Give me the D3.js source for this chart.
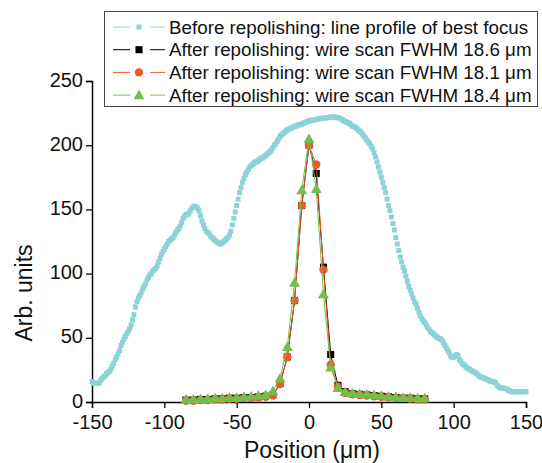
<!DOCTYPE html>
<html><head><meta charset="utf-8">
<script src="https://cdn.jsdelivr.net/npm/d3@7"></script>
<style>
html,body{margin:0;padding:0;background:#fff;}
svg{display:block;font-family:"Liberation Sans",Arial,sans-serif;}
</style></head>
<body>
<svg id="chart" width="542" height="463"></svg>
<script>
// ---- data ----
const xTickValues = [-150, -100, -50, 0, 50, 100, 150];
const yTickValues = [0, 50, 100, 150, 200, 250];

// Before repolishing: line profile (1 µm steps from -150 to 150)
const profileStart = -150;
const profileValues = [
  16, 15, 14.5, 14.5, 14.5, 15, 17, 18.5, 19.5, 20.5,
  22, 23, 24, 25.5, 28, 30, 33, 35, 37.5, 40,
  44, 46.5, 49, 51, 53, 55, 57, 60, 64, 68,
  74, 78, 81, 83, 85, 88, 90, 92, 95, 97,
  99, 100, 102, 103, 104, 106, 109, 112, 115, 117,
  119, 121, 123, 125, 126, 127, 128, 130, 132, 134,
  135, 137, 140, 143, 145, 146, 146, 147, 149, 151,
  152, 152.5, 152, 151, 149, 145, 141, 138, 135, 133,
  132, 131, 129, 128, 127, 126, 125, 124, 123.5, 123,
  124, 125, 126, 127, 128, 130, 133, 138, 143, 148,
  153, 158, 163, 167, 171, 174, 177, 179, 181, 183,
  184, 185, 186, 187, 187, 188, 189, 190, 190, 191,
  192, 193, 194, 195, 196, 198, 200, 201, 203, 205,
  207, 208, 209, 210, 211, 212, 212.5, 213, 213.5, 214,
  214.5, 215, 215.5, 216, 216, 216.5, 217, 217.5, 218, 218.5,
  219, 219, 219.5, 219.5, 220, 220, 220.5, 220.5, 221, 221,
  221, 221, 221.5, 221.5, 221.5, 222, 222, 222, 222, 221.5,
  221.5, 221, 220.5, 220, 219, 218.5, 218, 217.5, 217, 216,
  215, 214.5, 214, 213, 212, 211, 210, 208.5, 207, 205.5,
  204, 202.5, 201, 199, 197, 194, 191, 187, 183, 179,
  175, 171, 167, 163, 158, 153, 149, 144, 139, 134,
  128, 123, 118, 113, 109, 105, 102, 98, 94, 90,
  87, 84, 81, 78, 76, 73, 70, 67, 65, 63,
  62, 60, 58, 56.5, 55, 54, 53, 52, 51, 50,
  49.5, 49, 48, 46, 44, 42, 40, 38, 35.5, 34.5,
  35, 36, 37, 36, 33, 31.5, 30, 29, 28, 27,
  26, 25.5, 24.5, 24, 23.5, 23, 22, 21, 20, 19.5,
  19, 18.5, 18, 17.5, 17, 16.5, 16, 16, 15.5, 15,
  13, 12, 11, 11, 11, 10.5, 10.5, 10, 9, 8.5,
  8, 8, 8, 8, 8, 8, 8, 8, 8, 8, 8
];

// Wire scans (5 µm steps from -85 to 80)
const scanPositions = [-85,-80,-75,-70,-65,-60,-55,-50,-45,-40,-35,-30,-25,-20,-15,-10,-5,0,5,10,15,20,25,30,35,40,45,50,55,60,65,70,75,80];
const scan186 = [1.5,1.5,2,2,2.5,2.5,3,3,3.5,3.5,4,4.5,5.5,14.5,35,79,153,200,178,105,37,13,8,6.5,6,5.5,5,4.5,4,3.5,3,3,2.5,2.5];
const scan181 = [1,1,1.5,1.5,2,2,2.5,2.5,3,3,3.5,4,5,14,35,79,153,200,185,103,29,12,7,6,5.5,5,4.5,4,3.5,3,3,2.5,2,2];
const scan184 = [2,2,2.5,2.5,3,3,3.5,3.5,4,4.5,5,5.5,8.5,18.5,43,93,165,205,166,84,27,11,8,7,6.5,6,5.5,5,4.5,4,3.5,3.5,3,3];

const legendLabels = [
  "Before repolishing: line profile of best focus",
  "After repolishing: wire scan FWHM 18.6 \u03bcm",
  "After repolishing: wire scan FWHM 18.1 \u03bcm",
  "After repolishing: wire scan FWHM 18.4 \u03bcm"
];

// ---- drawing ----
const cyan = "#8dd3d5", red = "#f0582a", green = "#74bf4c", black = "#000";
const svg = d3.select("#chart");
const x = d3.scaleLinear().domain([-150, 150]).range([92, 526]);
const y = d3.scaleLinear().domain([0, 250]).range([402, 81]);

const profile = profileValues.map((v, i) => ({x: profileStart + i, y: v}));

// axes
const xMinor = d3.range(-150, 151, 10);
const yMinor = d3.range(0, 251, 10);
const fontTick = "20px";

const gx = svg.append("g").attr("transform", "translate(0,402)");
gx.call(d3.axisBottom(x).tickValues(xMinor).tickSize(3.5).tickFormat(""));
gx.call(d3.axisBottom(x).tickValues(xTickValues).tickSize(6).tickPadding(6.5).tickFormat(d3.format("d")));
gx.selectAll("path.domain").attr("stroke-width", 1.5);
gx.selectAll("line").attr("stroke-width", 1.3);
gx.selectAll("text").attr("font-size", fontTick).attr("font-family", "Liberation Sans, Arial, sans-serif").attr("fill", "#111").text(d => d < 0 ? "-" + Math.abs(d) : d);

const gy = svg.append("g").attr("transform", "translate(92,0)");
gy.call(d3.axisLeft(y).tickValues(yMinor).tickSize(3.5).tickFormat(""));
gy.call(d3.axisLeft(y).tickValues(yTickValues).tickSize(6).tickPadding(3).tickFormat(d3.format("d")));
gy.selectAll("path.domain").attr("stroke-width", 1.5);
gy.selectAll("line").attr("stroke-width", 1.3);
gy.selectAll("text").attr("font-size", fontTick).attr("font-family", "Liberation Sans, Arial, sans-serif").attr("fill", "#111")
  .attr("dy", "0.25em");

// axis titles
svg.append("text").attr("x", 312).attr("y", 458).attr("text-anchor", "middle")
  .attr("font-size", "23px").attr("fill", "#111").text("Position (\u03bcm)");
svg.append("text").attr("transform", "translate(32,293) rotate(-90)").attr("text-anchor", "middle")
  .attr("font-size", "23px").attr("fill", "#111").text("Arb. units");

// cyan profile squares
svg.append("g").selectAll("rect").data(profile).join("rect")
  .attr("x", d => x(d.x) - 2.5).attr("y", d => y(d.y) - 2.5)
  .attr("width", 5).attr("height", 5).attr("fill", cyan);

// wire scans
const series = [
  {vals: scan186, color: black, shape: "square"},
  {vals: scan181, color: red, shape: "circle"},
  {vals: scan184, color: green, shape: "triangle"}
];
const line = d3.line().x(d => x(d.x)).y(d => y(d.y));
const symbolFor = s => s === "square" ? d3.symbol(d3.symbolSquare, 50) :
                     s === "circle" ? d3.symbol(d3.symbolCircle, 55) :
                     d3.symbol(d3.symbolTriangle, 52);
series.forEach(s => {
  const pts = scanPositions.map((p, i) => ({x: p, y: s.vals[i]}));
  svg.append("path").datum(pts).attr("d", line).attr("fill", "none")
    .attr("stroke", s.color).attr("stroke-width", 1);
  svg.append("g").selectAll("path").data(pts).join("path")
    .attr("transform", d => `translate(${x(d.x)},${y(d.y) + (s.shape === "triangle" ? 1 : 0)})`)
    .attr("d", symbolFor(s.shape)()).attr("fill", s.color);
});

// legend
const lg = svg.append("g");
lg.append("rect").attr("x", 104.5).attr("y", 11.5).attr("width", 433).attr("height", 95)
  .attr("fill", "#fff").attr("stroke", "#444").attr("stroke-width", 1);
const legendItems = [
  {color: cyan, shape: "cyansq"},
  {color: black, shape: "square"},
  {color: red, shape: "circle"},
  {color: green, shape: "triangle"}
];
legendItems.forEach((it, i) => {
  const cy = 27 + i * 22.7;
  lg.append("line").attr("x1", 113).attr("x2", 165).attr("y1", cy).attr("y2", cy)
    .attr("stroke", it.color).attr("stroke-width", 1);
  lg.append("rect").attr("x", 130).attr("y", cy - 2).attr("width", 20).attr("height", 4).attr("fill", "#fff");
  if (it.shape === "cyansq") {
    lg.append("rect").attr("x", 139 - 2.5).attr("y", cy - 2.5).attr("width", 5).attr("height", 5).attr("fill", cyan);
  } else {
    lg.append("path").attr("transform", `translate(139,${cy + (it.shape === "triangle" ? 1 : 0)})`)
      .attr("d", symbolFor(it.shape)()).attr("fill", it.color);
  }
  lg.append("text").attr("x", 169).attr("y", cy + 6.6).attr("font-size", "18.8px").attr("fill", "#111")
    .text(legendLabels[i]);
});
</script>
</body></html>
